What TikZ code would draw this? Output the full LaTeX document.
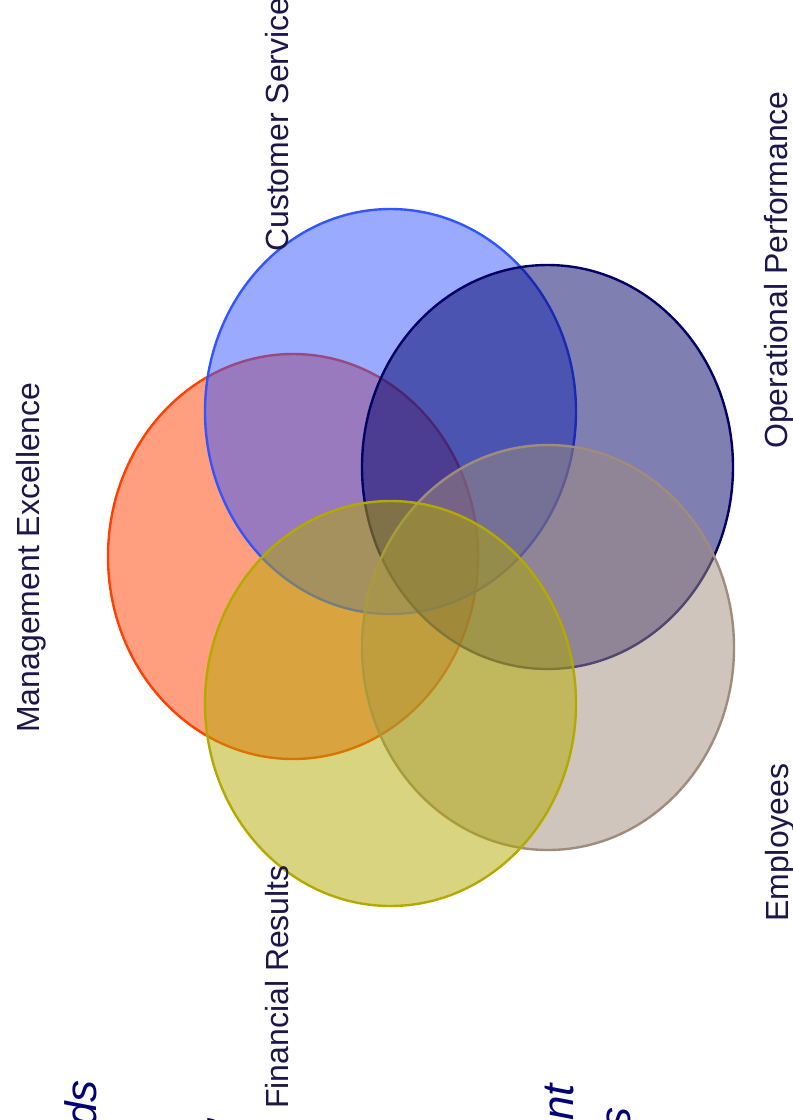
\documentclass[tikz,border=0pt]{standalone}
\usepackage{fontspec}
\setmainfont{Liberation Sans}
\definecolor{labelink}{RGB}{28,22,74}
\definecolor{titleink}{RGB}{0,0,120}
\definecolor{mgmt}{RGB}{255,64,0}
\definecolor{cust}{RGB}{51,85,255}
\definecolor{oper}{RGB}{0,0,102}
\definecolor{empl}{RGB}{160,140,122}
\definecolor{fin}{RGB}{179,169,0}
\tikzset{
  x=1pt, y=-1pt,
  ring/.style={line width=2.4pt, fill opacity=0.5, draw opacity=1},
  lbl/.style={rotate=90, anchor=base west, inner sep=0pt, text=labelink,
    font=\fontsize{32}{38}\selectfont},
  ttl/.style={rotate=90, anchor=base east, inner sep=0pt, text=titleink,
    font=\fontsize{44}{52}\selectfont\itshape}
}
\begin{document}
\begin{tikzpicture}
\useasboundingbox (0,0) rectangle (793,1120);
\clip (0,0) rectangle (793,1120);
% overlapping circles, bottom to top
\draw[ring, draw=mgmt, fill=mgmt] (293,556.5) ellipse [x radius=185, y radius=202.5];
\draw[ring, draw=cust, fill=cust] (390.5,411.5) ellipse [x radius=185.5, y radius=202.5];
\draw[ring, draw=oper, fill=oper] (547.5,467) ellipse [x radius=185.5, y radius=202];
\draw[ring, draw=empl, fill=empl] (548,647.5) ellipse [x radius=186, y radius=202.5];
\draw[ring, draw=fin, fill=fin] (390.5,703.5) ellipse [x radius=185.5, y radius=202.5];
% labels
\node[lbl] (cs) at (288.5,252) {Customer Service};
\node[lbl] (op) at (787.5,449) {Operational Performance};
\node[lbl] (me) at (39.5,733) {Management Excellence};
\node[lbl] (em) at (788,922) {Employees};
\node[lbl] (fr) at (288.5,1109) {Financial Results};
% heading lines running off the lower edge
\node[ttl] (h1) at (96,1080) {ds};
\node[ttl] (h2) at (212,1113) {,};
\node[ttl] (h3) at (573,1084) {nt};
\node[ttl] (h4) at (630,1107) {s};
\end{tikzpicture}
\end{document}
